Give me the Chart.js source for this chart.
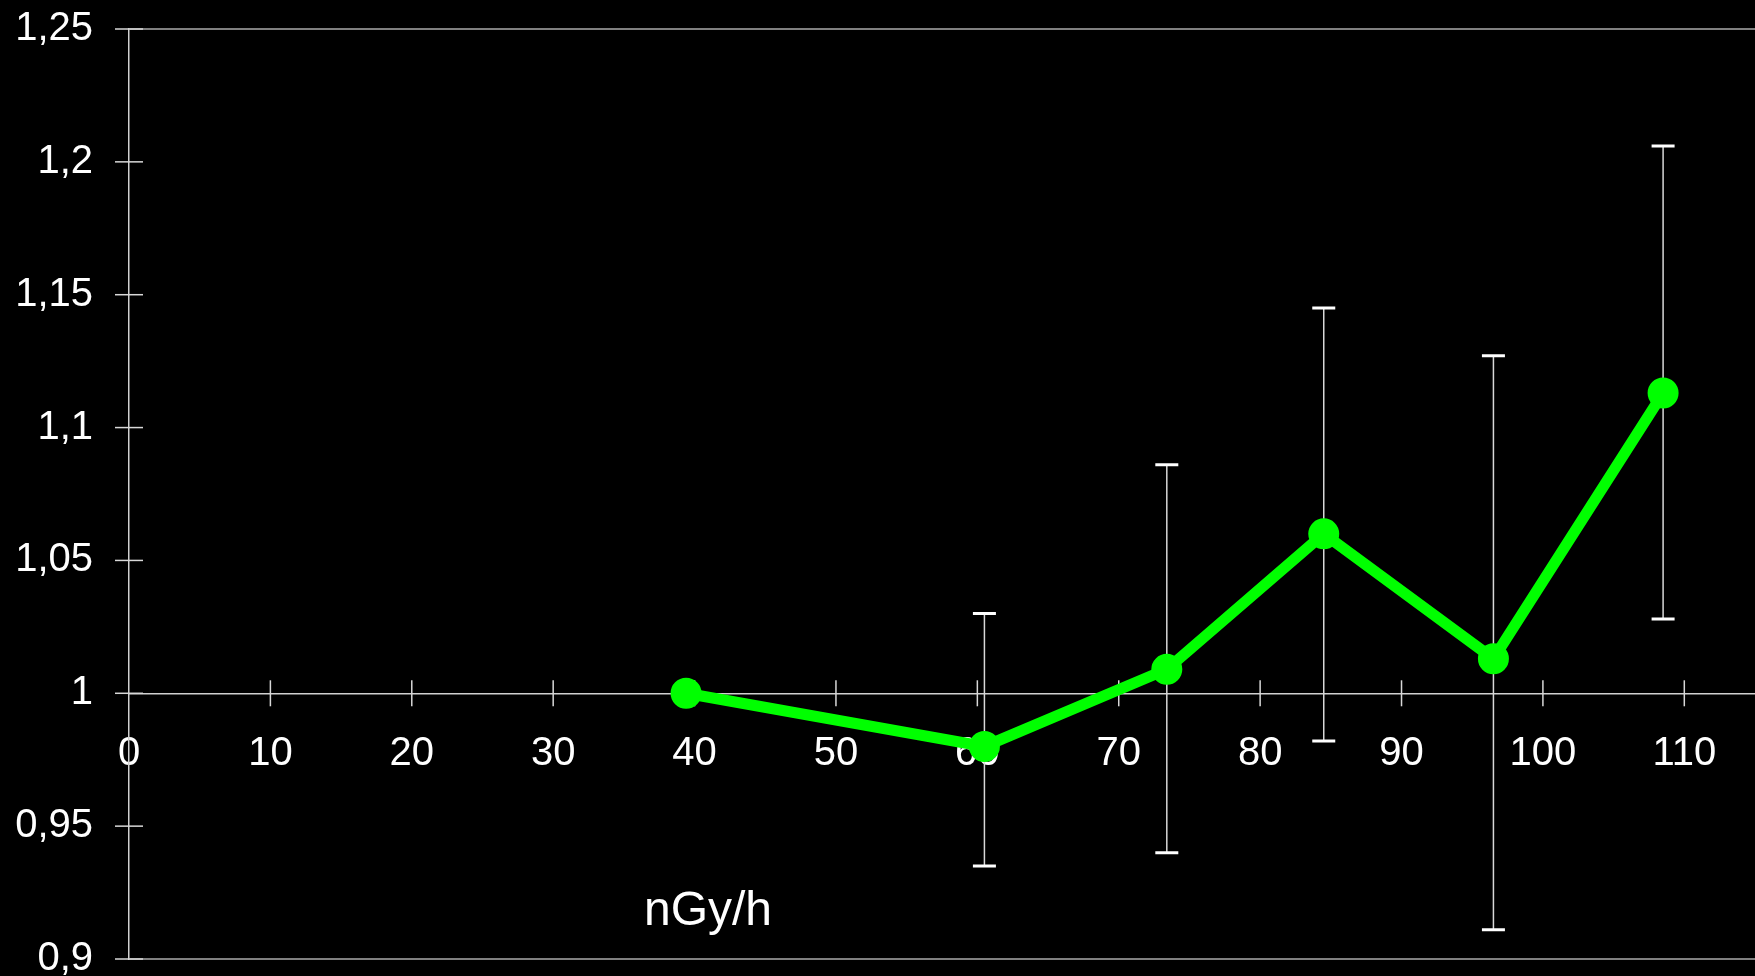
<!DOCTYPE html>
<html>
<head>
<meta charset="utf-8">
<script src="https://cdn.jsdelivr.net/npm/chart.js@4.4.1/dist/chart.umd.min.js"></script>
<style>
  html, body { margin: 0; padding: 0; background: #000; overflow: hidden; }
  #wrap { width: 1755px; height: 976px; }
  canvas { display: block; }
</style>
</head>
<body>
<div id="wrap"><canvas id="doseChart" width="1755" height="976"></canvas></div>
<script>
// dose rate (nGy/h) and relative ratio
const doseRate = [39.4, 60.5, 73.4, 84.5, 96.5, 108.5];
const ratio = [1.0, 0.98, 1.009, 1.06, 1.013, 1.113];
const errHigh = [null, 1.030, 1.086, 1.145, 1.127, 1.206];
const errLow = [null, 0.935, 0.940, 0.982, 0.911, 1.028];
const xTicks = [0, 10, 20, 30, 40, 50, 60, 70, 80, 90, 100, 110];
const yTicks = [0.9, 0.95, 1, 1.05, 1.1, 1.15, 1.2, 1.25];
const xTitle = "nGy/h";

const FONT = "'Liberation Sans', Arial, sans-serif";

function fmtComma(v) {
  return String(+v.toFixed(2)).replace(".", ",");
}

// error bars, crossing tick marks and the axis title
const extras = {
  id: "extras",
  beforeDatasetsDraw(chart) {
    const ctx = chart.ctx;
    const xs = chart.scales.x;
    const ys = chart.scales.y;
    ctx.save();

    ctx.strokeStyle = "#d8d8d8";
    ctx.lineWidth = 1.5;
    ys.ticks.forEach((t) => {
      const py = ys.getPixelForValue(t.value);
      ctx.beginPath();
      ctx.moveTo(xs.left - 14, py);
      ctx.lineTo(xs.left + 14, py);
      ctx.stroke();
    });

    const axisY = ys.getPixelForValue(1);
    xs.ticks.forEach((t) => {
      if (t.value === 0) return;
      const px = xs.getPixelForValue(t.value);
      ctx.beginPath();
      ctx.moveTo(px, axisY - 13);
      ctx.lineTo(px, axisY + 13);
      ctx.stroke();
    });

    doseRate.forEach((d, i) => {
      if (errHigh[i] == null) return;
      const px = xs.getPixelForValue(d);
      const top = ys.getPixelForValue(errHigh[i]);
      const bot = ys.getPixelForValue(errLow[i]);
      ctx.strokeStyle = "#d8d8d8";
      ctx.lineWidth = 1.5;
      ctx.beginPath();
      ctx.moveTo(px, top);
      ctx.lineTo(px, bot);
      ctx.stroke();
      ctx.strokeStyle = "#ffffff";
      ctx.lineWidth = 3;
      ctx.beginPath();
      ctx.moveTo(px - 11.5, top);
      ctx.lineTo(px + 11.5, top);
      ctx.moveTo(px - 11.5, bot);
      ctx.lineTo(px + 11.5, bot);
      ctx.stroke();
    });

    ctx.fillStyle = "#ffffff";
    ctx.font = "48px " + FONT;
    ctx.textAlign = "center";
    ctx.textBaseline = "alphabetic";
    ctx.fillText(xTitle, 708, 925);
    ctx.restore();
  }
};

new Chart(document.getElementById("doseChart"), {
  type: "scatter",
  data: {
    datasets: [{
      data: doseRate.map((d, i) => ({ x: d, y: ratio[i] })),
      showLine: true,
      borderColor: "#00ff00",
      backgroundColor: "#00ff00",
      borderWidth: 11,
      pointRadius: 10,
      pointHoverRadius: 10,
      tension: 0
    }]
  },
  options: {
    responsive: false,
    animation: false,
    layout: { autoPadding: false, padding: { top: 29, bottom: 17, left: 0, right: 0 } },
    plugins: { legend: { display: false }, tooltip: { enabled: false } },
    scales: {
      x: {
        type: "linear",
        position: { y: 1 },
        min: 0,
        max: 115,
        afterBuildTicks: (s) => { s.ticks = xTicks.map((v) => ({ value: v })); },
        afterFit: (s) => { s.height = 0; s.paddingLeft = 0; s.paddingRight = 0; },
        ticks: { autoSkip: false, color: "#ffffff", font: { family: FONT, size: 40 }, padding: 37, maxRotation: 0 },
        grid: { drawOnChartArea: false, drawTicks: false },
        border: { display: true, color: "#d0d0d0", width: 1.5 }
      },
      y: {
        min: 0.9,
        max: 1.25,
        afterBuildTicks: (s) => { s.ticks = yTicks.map((v) => ({ value: v })); },
        afterFit: (s) => { s.width = 129; s.paddingTop = 0; s.paddingBottom = 0; },
        ticks: {
          color: "#ffffff",
          font: { family: FONT, size: 40 },
          padding: 36,
          callback: (v) => fmtComma(v)
        },
        grid: {
          drawTicks: false,
          color: (c) => {
            const v = c.tick ? c.tick.value : null;
            return v != null && (Math.abs(v - 0.9) < 1e-6 || Math.abs(v - 1.25) < 1e-6) ? "#808080" : "rgba(0,0,0,0)";
          },
          lineWidth: 2
        },
        border: { display: true, color: "#d0d0d0", width: 1.5 }
      }
    }
  },
  plugins: [extras]
});
</script>
</body>
</html>
